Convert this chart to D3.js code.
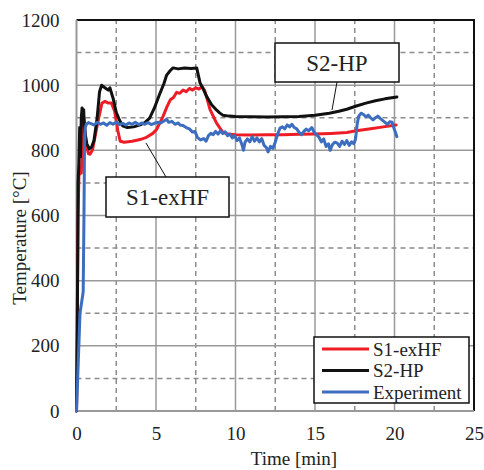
<!DOCTYPE html>
<html>
  <head>
    <meta charset="utf-8">
    <title>Temperature vs time</title>
    <script src="https://cdn.jsdelivr.net/npm/d3@7"></script>
    <style>
      body { margin: 0; background: #fff; }
      text { font-family: "Liberation Serif", "Times New Roman", serif; fill: #222; }
      .grid line { stroke: #999; stroke-width: 1.5; }
      .grid .minor { stroke: #8c8c8c; stroke-width: 1.5; stroke-dasharray: 5 4; }
      .series { fill: none; stroke-width: 3; stroke-linejoin: round; stroke-linecap: round; }
    </style>
  </head>

  <body>
    <svg id="chart" width="484" height="470"></svg>

    <script>
      // data
      seriesNames = ["S1-exHF", "S2-HP", "Experiment"];
      seriesColors = ["#ee1c25", "#111111", "#3c6dbf"];

      s1Time = [0, 0.05, 0.1, 0.15, 0.22, 0.3, 0.36, 0.43, 0.5, 0.6, 0.75, 0.85, 1.0, 1.2, 1.4, 1.6, 1.8, 2.0, 2.2, 2.4, 2.6, 2.75, 3.0, 3.5, 4.0, 4.4, 4.8, 5.05, 5.25, 5.45, 5.7, 5.9, 6.1, 6.3, 6.5, 6.7, 6.9, 7.1, 7.3, 7.5, 7.7, 7.9, 8.05, 8.2, 8.4, 8.6, 8.8, 9.0, 9.2, 9.5, 10, 11, 12, 13, 14, 15, 16, 17, 17.6, 18.5, 19.3, 20.1];
      s1Temp = [0, 300, 600, 720, 735, 730, 800, 910, 880, 820, 790, 788, 800, 850, 900, 945, 950, 945, 945, 920, 860, 828, 825, 828, 833, 840, 852, 865, 885, 905, 935, 955, 962, 978, 975, 985, 980, 990, 985, 992, 988, 995, 985, 960, 925, 905, 884, 870, 856, 850, 848, 847, 848, 848, 849, 850, 852, 855, 860, 866, 872, 878];

      s2Time = [0, 0.05, 0.1, 0.15, 0.2, 0.25, 0.3, 0.35, 0.4, 0.45, 0.5, 0.55, 0.65, 0.8, 0.95, 1.1, 1.3, 1.45, 1.58, 1.7, 1.85, 2.0, 2.1, 2.3, 2.5, 2.7, 2.9, 3.2, 3.6, 4.0, 4.3, 4.6, 4.9, 5.25, 5.5, 5.67, 5.9, 6.07, 6.4, 6.8, 7.2, 7.56, 7.77, 8.0, 8.2, 8.5, 8.8, 9.0, 9.2, 9.6, 10, 11, 12, 13, 14, 15, 15.9, 16.5, 17, 17.6, 18.2, 18.8, 19.4, 20.15];
      s2Temp = [0, 250, 700, 760, 870, 780, 900, 930, 915, 925, 870, 850, 820, 805, 810, 830, 900, 980, 1000, 995, 990, 985, 992, 960, 917, 893, 875, 870, 872, 878, 885, 899, 930, 975, 1005, 1031, 1045, 1053, 1050, 1053, 1051, 1053, 1007, 985, 964, 940, 924, 915, 908, 905, 904, 903, 902, 903, 904, 908, 914, 920, 926, 936, 945, 952, 958, 964];

      expTime = [0, 0.22, 0.42, 0.47, 0.5, 0.55, 0.62, 0.75, 0.9, 1.1, 1.3, 1.5, 1.7, 1.9, 2.1, 2.3, 2.5, 2.7, 2.9, 3.1, 3.3, 3.5, 3.7, 3.9, 4.1, 4.3, 4.5, 4.7, 4.9, 5.1, 5.3, 5.5, 5.67, 5.8, 6.0, 6.2, 6.4, 6.5, 6.7, 6.9, 7.1, 7.3, 7.45, 7.6, 7.8, 8.0, 8.15, 8.3, 8.45, 8.6, 8.75, 8.9, 9.05, 9.2, 9.35, 9.5, 9.65, 9.8, 9.95, 10.1, 10.25, 10.4, 10.5, 10.6, 10.75, 10.9, 11.05, 11.2, 11.35, 11.5, 11.65, 11.8, 11.95, 12.05, 12.2, 12.35, 12.5, 12.65, 12.8, 12.95, 13.1, 13.25, 13.4, 13.55, 13.7, 13.85, 14.0, 14.15, 14.3, 14.45, 14.6, 14.8, 14.95, 15.1, 15.25, 15.4, 15.55, 15.7, 15.85, 15.95, 16.1, 16.25, 16.4, 16.55, 16.7, 16.85, 17.0, 17.15, 17.3, 17.45, 17.55, 17.65, 17.75, 17.9, 18.05, 18.2, 18.35, 18.5, 18.65, 18.8, 18.95, 19.1, 19.25, 19.4, 19.55, 19.7, 19.85, 19.95, 20.05, 20.15];
      expTemp = [0, 300, 365, 600, 800, 870, 880, 885, 882, 878, 886, 880, 884, 877, 885, 880, 887, 879, 883, 878, 884, 880, 886, 879, 884, 880, 885, 879, 883, 886, 884, 890, 895, 886, 889, 880, 884, 878, 876, 870, 866, 856, 858, 840, 832, 836, 828, 845, 852, 848, 858, 850, 860, 852, 857, 845, 850, 838, 845, 830, 838, 818, 800, 825, 835, 826, 842, 828, 838, 826, 836, 815, 808, 795, 812, 806, 825, 850, 868, 872, 866, 878, 872, 880, 870, 866, 855, 848, 858, 865, 860, 870, 855, 848, 840, 826, 835, 812, 820, 800, 818, 825, 822, 812, 828, 818, 830, 815, 826, 820, 835, 880, 905, 914, 910, 903, 908, 900, 893, 900, 905, 898, 892, 886, 880, 888, 886, 870, 856, 842];

      xTicks = [0, 5, 10, 15, 20, 25];
      yTicks = [0, 200, 400, 600, 800, 1000, 1200];
      xMinor = [2.5, 7.5, 12.5, 17.5, 22.5];
      yMinor = [100, 300, 500, 700, 900, 1100];

      // page elements
      chart = d3.select("#chart");
      serif = "'Liberation Serif', 'Times New Roman', serif";
      margin = { top: 20, right: 10, bottom: 59, left: 76.5 };
      width = 484;
      height = 470;

      x = d3.scaleLinear()
        .domain([0, 25])
        .range([margin.left, width - margin.right]);
      y = d3.scaleLinear()
        .domain([0, 1200])
        .range([height - margin.bottom, margin.top]);

      // gridlines
      grid = chart.append("g").classed("grid", true);
      grid.selectAll(".minorX")
        .data(xMinor)
        .join("line")
          .attr("class", "minor")
          .attr("x1", function(d) { return x(d); })
          .attr("x2", function(d) { return x(d); })
          .attr("y1", y(0))
          .attr("y2", y(1200));
      grid.selectAll(".minorY")
        .data(yMinor)
        .join("line")
          .attr("class", "minor")
          .attr("x1", x(0))
          .attr("x2", x(25))
          .attr("y1", function(d) { return y(d); })
          .attr("y2", function(d) { return y(d); });
      grid.selectAll(".majorX")
        .data(xTicks.slice(1, -1))
        .join("line")
          .attr("class", "majorX")
          .attr("x1", function(d) { return x(d); })
          .attr("x2", function(d) { return x(d); })
          .attr("y1", y(0))
          .attr("y2", y(1200));
      grid.selectAll(".majorY")
        .data(yTicks.slice(1, -1))
        .join("line")
          .attr("class", "majorY")
          .attr("x1", x(0))
          .attr("x2", x(25))
          .attr("y1", function(d) { return y(d); })
          .attr("y2", function(d) { return y(d); });

      // frame: black top/right, grey axes left/bottom
      chart.append("path")
        .attr("d", "M" + x(0) + "," + y(1200) + "H" + x(25) + "V" + y(0))
        .attr("fill", "none")
        .attr("stroke", "#111")
        .attr("stroke-width", 2);
      chart.append("path")
        .attr("d", "M" + x(0) + "," + y(1200) + "V" + y(0) + "H" + x(25))
        .attr("fill", "none")
        .attr("stroke", "#999")
        .attr("stroke-width", 2);

      // axes labels
      xAxis = chart.append("g")
        .attr("transform", "translate(0," + y(0) + ")")
        .call(d3.axisBottom(x).tickValues(xTicks).tickFormat(d3.format("d")).tickSize(0).tickPadding(16));
      yAxis = chart.append("g")
        .attr("transform", "translate(" + (x(0) - 17) + ",0)")
        .call(d3.axisLeft(y).tickValues(yTicks).tickFormat(d3.format("d")).tickSize(0).tickPadding(0));
      chart.selectAll(".domain").remove();
      xAxis.attr("font-family", serif).attr("font-size", 19);
      yAxis.attr("font-family", serif).attr("font-size", 19);
      chart.selectAll(".tick text")
        .style("font-family", serif)
        .style("font-size", "19px")
        .attr("fill", "#222");

      chart.append("text")
        .attr("x", 294)
        .attr("y", 465)
        .attr("text-anchor", "middle")
        .style("font-size", "19px")
        .text("Time [min]");
      chart.append("text")
        .attr("transform", "translate(26,238) rotate(-90)")
        .attr("text-anchor", "middle")
        .style("font-size", "19px")
        .text("Temperature [°C]");

      // series
      series = [
        { name: seriesNames[0], color: seriesColors[0], t: s1Time, v: s1Temp },
        { name: seriesNames[1], color: seriesColors[1], t: s2Time, v: s2Temp },
        { name: seriesNames[2], color: seriesColors[2], t: expTime, v: expTemp }
      ];
      line = d3.line()
        .x(function(d) { return x(d[0]); })
        .y(function(d) { return y(d[1]); });
      chart.selectAll(".series")
        .data(series)
        .join("path")
          .attr("class", "series")
          .attr("stroke", function(d) { return d.color; })
          .attr("d", function(d) {
            return line(d.t.map(function(t, i) { return [t, d.v[i]]; }));
          });

      // callouts
      function callout(label, box, from, to, size) {
        chart.append("line")
          .attr("x1", from[0]).attr("y1", from[1])
          .attr("x2", to[0]).attr("y2", to[1])
          .attr("stroke", "#111")
          .attr("stroke-width", 1);
        chart.append("rect")
          .attr("x", box[0]).attr("y", box[1])
          .attr("width", box[2]).attr("height", box[3])
          .attr("fill", "#fff")
          .attr("stroke", "#111")
          .attr("stroke-width", 1.5);
        chart.append("text")
          .attr("x", box[0] + box[2] / 2)
          .attr("y", box[1] + box[3] / 2)
          .attr("dy", "0.35em")
          .attr("text-anchor", "middle")
          .style("font-size", size + "px")
          .text(label);
      }
      callout("S2-HP", [275, 43, 124, 39], [337, 82], [332, 110], 23);
      callout("S1-exHF", [106, 177, 123, 40], [166, 177], [146, 143], 23);

      // legend
      legend = chart.append("g");
      legend.append("rect")
        .attr("x", 314).attr("y", 337)
        .attr("width", 155).attr("height", 66)
        .attr("fill", "#fff")
        .attr("stroke", "#111")
        .attr("stroke-width", 1.5);
      legendRows = legend.selectAll(".row")
        .data(series)
        .join("g")
          .attr("transform", function(d, i) { return "translate(0," + (349 + i * 21.5) + ")"; });
      legendRows.append("line")
        .attr("x1", 322).attr("x2", 369)
        .attr("stroke", function(d) { return d.color; })
        .attr("stroke-width", 3);
      legendRows.append("text")
        .attr("x", 373)
        .attr("dy", "0.35em")
        .style("font-size", "19px")
        .text(function(d) { return d.name; });
    </script>
  </body>
</html>
